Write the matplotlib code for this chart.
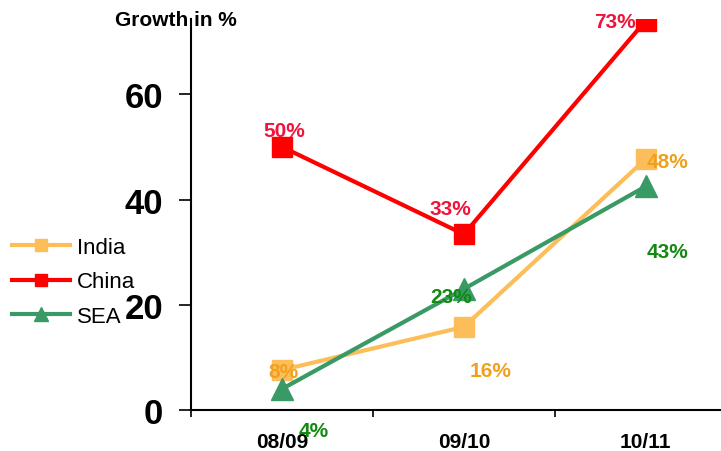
import matplotlib.pyplot as plt

plt.rcParams['font.family'] = ['Liberation Sans', 'DejaVu Sans']

periods = ["08/09", "09/10", "10/11"]
india = [7.6, 15.8, 47.7]
china = [50, 33.4, 74]
sea = [4, 23, 42.5]
india_labels = ["8%", "16%", "48%"]
china_labels = ["50%", "33%", "73%"]
sea_labels = ["4%", "23%", "43%"]

# label offsets in pixels from each marker
india_off = [(1, -1), (27, -44), (22, -3)]
china_off = [(2, 16), (-13, 26), (-31, -1)]
sea_off = [(32, -42), (-13, -8), (22, -65)]

fig = plt.figure(figsize=(7.21, 4.52), dpi=100)
ax = fig.add_axes([0.265, 0.0907, 0.734, 0.865])

x = list(range(len(periods)))
series = [
    ("India", india, india_labels, india_off, "#FDBE5A", "#F0A01E", "s", 15),
    ("China", china, china_labels, china_off, "#FF0000", "#F0143C", "s", 15),
    ("SEA", sea, sea_labels, sea_off, "#399A66", "#128A12", "^", 16),
]
for name, vals, labs, offs, col, tcol, mk, ms in series:
    ax.plot(x, vals, color=col, lw=3, marker=mk, ms=ms, label=name)
    for xi, v, lab, off in zip(x, vals, labs, offs):
        ax.annotate(lab, (xi, v), xytext=off, textcoords="offset pixels",
                    ha="center", va="center", fontsize=15, fontweight="bold",
                    color=tcol)

ax.set_xlim(-0.5, 2.41)
ax.set_ylim(0, 74.3)
ax.spines["top"].set_visible(False)
ax.spines["right"].set_visible(False)
ax.spines["left"].set_linewidth(1.5)
ax.spines["bottom"].set_linewidth(1.5)

ax.set_yticks([0, 20, 40, 60])
ax.tick_params(axis="y", direction="out", length=9, width=1.2, pad=11,
               labelsize=25)
for t in ax.get_yticklabels():
    t.set_fontweight("bold")

ax.set_xticks([-0.5, 0.5, 1.5])
ax.set_xticklabels([])
ax.tick_params(axis="x", which="major", direction="out", length=5, width=1.2)
ax.set_xticks(x, minor=True)
ax.set_xticklabels(periods, minor=True, fontsize=15, fontweight="bold")
ax.tick_params(axis="x", which="minor", length=0, pad=16)

fig.text(0.16, 0.955, "Growth in %", fontsize=15, fontweight="bold",
         ha="left", va="center")

fig.legend(loc="center left", bbox_to_anchor=(0.005, 0.374), frameon=False,
           fontsize=16, handlelength=2.6, handletextpad=0.3,
           labelspacing=0.6, markerscale=0.6, borderaxespad=0)

fig.savefig("out.png", dpi=100)
